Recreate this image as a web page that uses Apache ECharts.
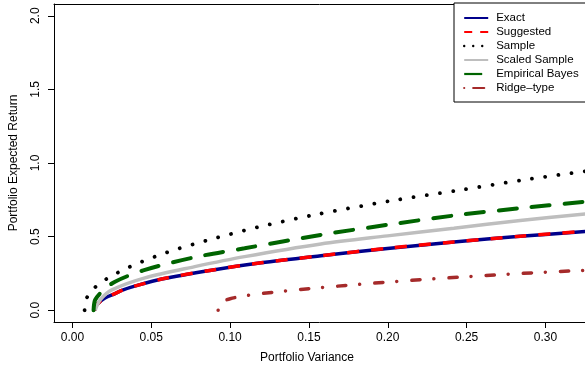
<!DOCTYPE html>
<html>
<head>
<meta charset="utf-8">
<script src="https://cdn.jsdelivr.net/npm/echarts@6/dist/echarts.min.js"></script>
<style>
  html, body { margin: 0; padding: 0; background: #ffffff; }
  #chart { width: 585px; height: 373px; }
</style>
</head>
<body>
<div id="chart"></div>
<script>
// Tick positions on both axes
const xTicks = [0, 0.05, 0.10, 0.15, 0.20, 0.25, 0.30];
const yTicks = [0, 0.5, 1.0, 1.5, 2.0];

const seriesNames = ['Exact', 'Suggested', 'Sample', 'Scaled Sample', 'Empirical Bayes', 'Ridge\u2013type'];

// Efficient frontiers: portfolio variance (x) and expected return (y)
const exactVar = [0.0140, 0.0150, 0.0176, 0.0207, 0.0270, 0.0313, 0.0400, 0.0566, 0.0881, 0.1197, 0.1576, 0.1998, 0.2419, 0.2840, 0.3260];
const exactRet = [0.000, 0.030, 0.060, 0.083, 0.113, 0.135, 0.165, 0.212, 0.272, 0.322, 0.370, 0.420, 0.463, 0.502, 0.535];

const suggestedVar = [0.0140, 0.0150, 0.0176, 0.0207, 0.0270, 0.0313, 0.0400, 0.0566, 0.0881, 0.1197, 0.1576, 0.1998, 0.2419, 0.2840, 0.3260];
const suggestedRet = [0.000, 0.030, 0.060, 0.083, 0.113, 0.135, 0.165, 0.212, 0.272, 0.322, 0.370, 0.421, 0.464, 0.503, 0.537];

const sampleVar = [0.0077, 0.0092, 0.0144, 0.0214, 0.0365, 0.0603, 0.0850, 0.1176, 0.1513, 0.2019, 0.2440, 0.2861, 0.3260];
const sampleRet = [0.000, 0.086, 0.156, 0.211, 0.296, 0.394, 0.473, 0.564, 0.643, 0.743, 0.813, 0.885, 0.945];

const scaledVar = [0.0144, 0.0176, 0.0250, 0.0460, 0.0776, 0.1092, 0.1576, 0.1998, 0.2419, 0.2840, 0.3260];
const scaledRet = [0.000, 0.070, 0.138, 0.220, 0.296, 0.364, 0.450, 0.505, 0.557, 0.609, 0.655];

const bayesVar = [0.0134, 0.0144, 0.0186, 0.0270, 0.0460, 0.0776, 0.1092, 0.1576, 0.1998, 0.2419, 0.2840, 0.3260];
const bayesRet = [0.000, 0.070, 0.126, 0.194, 0.274, 0.360, 0.421, 0.512, 0.580, 0.643, 0.693, 0.738];

const ridgeVar = [0.0924, 0.0930, 0.0950, 0.1000, 0.1092, 0.1324, 0.1556, 0.1787, 0.2023, 0.2257, 0.2488, 0.2724, 0.2956, 0.3194, 0.3260];
const ridgeRet = [0.000, 0.035, 0.058, 0.078, 0.098, 0.128, 0.152, 0.173, 0.193, 0.211, 0.227, 0.242, 0.256, 0.268, 0.271];

const pairs = (xs, ys) => xs.map((x, i) => [x, ys[i]]);

const FONT = 'Liberation Sans, Arial, Helvetica, sans-serif';

// Stroke styles of the frontiers in the plot
const lineStyles = [
  { color: '#00008b', width: 3.5, type: 'solid' },
  { color: '#ff0000', width: 3.5, type: [12, 12], cap: 'butt' },
  { color: '#000000', width: 3.8, type: [0.01, 13.3], cap: 'round' },
  { color: '#bebebe', width: 3.5, type: 'solid' },
  { color: '#006400', width: 4, type: [18, 15], cap: 'round' },
  { color: '#a52a2a', width: 3.5, type: [0.01, 15, 8.2, 14], cap: 'round' }
];

// Thinner keys drawn in the legend box
const legendLineStyles = [
  { color: '#00008b', width: 2, type: 'solid', cap: 'butt' },
  { color: '#ff0000', width: 2, type: [8, 8], cap: 'butt' },
  { color: '#000000', width: 2.4, type: [0.01, 9], cap: 'round' },
  { color: '#bebebe', width: 2, type: 'solid', cap: 'butt' },
  { color: '#006400', width: 2.2, type: [18, 8], cap: 'butt' },
  { color: '#a52a2a', width: 2.2, type: [0.01, 9, 11, 6], cap: 'round' }
];

const datasets = [
  pairs(exactVar, exactRet),
  pairs(suggestedVar, suggestedRet),
  pairs(sampleVar, sampleRet),
  pairs(scaledVar, scaledRet),
  pairs(bayesVar, bayesRet),
  pairs(ridgeVar, ridgeRet)
];

const chart = echarts.init(document.getElementById('chart'), null, { renderer: 'canvas' });

// Plot box spans the whole right side of the canvas
const X_MIN = -0.0117, X_MAX = 0.3251;
const Y_MIN = -0.08, Y_MAX = 2.08;

chart.setOption({
  animation: false,
  backgroundColor: '#ffffff',
  textStyle: { fontFamily: FONT },
  grid: { left: 52, top: 4, right: 0, bottom: 51, containLabel: false },
  xAxis: [
    {
      type: 'value', min: X_MIN, max: X_MAX, position: 'bottom',
      axisLine: { show: true, onZero: false, lineStyle: { color: '#000', width: 1 } },
      axisTick: { show: true, customValues: xTicks, length: 6, lineStyle: { color: '#000' } },
      axisLabel: {
        customValues: xTicks, color: '#000', fontSize: 12, fontFamily: FONT, margin: 10,
        formatter: v => v.toFixed(2)
      },
      splitLine: { show: false }
    },
    {
      type: 'value', min: X_MIN, max: X_MAX, position: 'top',
      axisLine: { show: true, onZero: false, lineStyle: { color: '#000', width: 1 } },
      axisTick: { show: false }, axisLabel: { show: false }, splitLine: { show: false }
    }
  ],
  yAxis: {
    type: 'value', min: Y_MIN, max: Y_MAX,
    name: 'Portfolio Expected Return', nameLocation: 'middle', nameGap: 34,
    nameTextStyle: { color: '#000', fontSize: 12, fontFamily: FONT },
    axisLine: { show: true, onZero: false, lineStyle: { color: '#000', width: 1 } },
    axisTick: { show: true, customValues: yTicks, length: 6, lineStyle: { color: '#000' } },
    axisLabel: {
      customValues: yTicks, color: '#000', fontSize: 12, fontFamily: FONT, margin: 12, rotate: 90,
      formatter: v => v.toFixed(1)
    },
    splitLine: { show: false }
  },
  legend: {
    data: seriesNames.map((name, i) => ({ name, lineStyle: legendLineStyles[i] })),
    orient: 'vertical',
    left: 454, top: 3,
    padding: [9, 9, 8, 9],
    itemWidth: 24, itemHeight: 14, itemGap: 2,
    borderColor: '#000', borderWidth: 1,
    backgroundColor: '#ffffff',
    itemStyle: { opacity: 0 },
    textStyle: { color: '#000', fontSize: 11.5, fontFamily: FONT, padding: [0, 0, 0, 3] }
  },
  graphic: [
    {
      type: 'text', x: 307, y: 358,
      style: {
        text: 'Portfolio Variance', fill: '#000', font: '12px ' + FONT,
        textAlign: 'center', textVerticalAlign: 'middle'
      }
    }
  ],
  series: seriesNames.map((name, i) => ({
    name,
    type: 'line',
    data: datasets[i],
    smooth: 0.3,
    showSymbol: false,
    symbol: 'none',
    lineStyle: lineStyles[i],
    itemStyle: { color: lineStyles[i].color },
    z: 2 + i
  }))
});
</script>
</body>
</html>
